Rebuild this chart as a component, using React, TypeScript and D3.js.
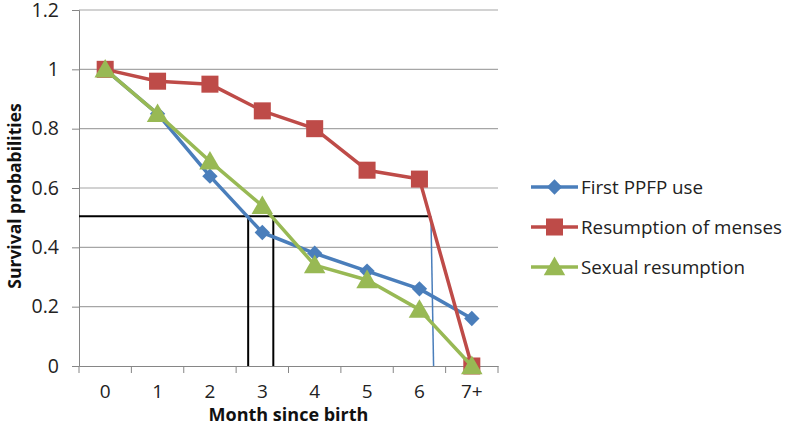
import { useEffect, useRef } from 'react';
import * as d3 from 'd3';

const months = ['0', '1', '2', '3', '4', '5', '6', '7+'];
const firstPPFP = [1, 0.85, 0.64, 0.45, 0.38, 0.32, 0.26, 0.16];
const menses = [1, 0.96, 0.95, 0.86, 0.8, 0.66, 0.63, 0];
const sexual = [1, 0.85, 0.69, 0.54, 0.34, 0.29, 0.19, 0];
const yTicks = [0, 0.2, 0.4, 0.6, 0.8, 1, 1.2];

// median (0.5) crossing guide lines, x in month units
const medianLevel = 0.505;
const blackCrossings = [2.73, 3.21];
const blueCrossing = { top: 6.22, bottom: 6.27 };

interface Series {
  name: string;
  values: number[];
  color: string;
  marker: 'diamond' | 'square' | 'triangle';
}

const series: Series[] = [
  { name: 'First PPFP use', values: firstPPFP, color: '#4A7EBB', marker: 'diamond' },
  { name: 'Resumption of menses', values: menses, color: '#BE4B48', marker: 'square' },
  { name: 'Sexual resumption', values: sexual, color: '#98B954', marker: 'triangle' },
];

const FONT = '"Open Sans", "Liberation Sans", sans-serif';

export default function App() {
  const ref = useRef<SVGSVGElement | null>(null);

  useEffect(() => {
    const width = 787;
    const height = 438;
    const margin = { top: 10, right: 289, bottom: 72, left: 79 };
    const innerW = width - margin.left - margin.right;
    const innerH = height - margin.top - margin.bottom;

    d3.select(ref.current).selectAll('*').remove();
    const root = d3.select(ref.current).attr('width', width).attr('height', height);
    const svg = root.append('g').attr('transform', `translate(${margin.left},${margin.top})`);

    const x = d3.scaleBand().domain(months).range([0, innerW]);
    const xm = d3.scaleLinear().domain([-0.5, months.length - 0.5]).range([0, innerW]);
    const y = d3.scaleLinear().domain([0, 1.2]).range([innerH, 0]);

    // gridlines
    svg.append('g')
      .selectAll('line')
      .data(yTicks.filter(t => t > 0))
      .enter().append('line')
      .attr('x1', 0).attr('x2', innerW)
      .attr('y1', d => y(d)).attr('y2', d => y(d))
      .attr('stroke', '#A6A6A6').attr('stroke-width', 1.2);

    // y axis
    const yAxis = svg.append('g')
      .call(d3.axisLeft(y).tickValues(yTicks).tickSize(7).tickPadding(13).tickFormat(d => String(d)));
    yAxis.select('.domain').attr('stroke', '#868686');
    yAxis.selectAll('.tick line').attr('stroke', '#868686');
    yAxis.selectAll('text').attr('font-family', FONT).attr('font-size', 19.5).attr('fill', '#222');

    // x axis
    const xAxis = svg.append('g')
      .attr('transform', `translate(0,${innerH})`)
      .call(d3.axisBottom(x).tickSize(0).tickPadding(19));
    xAxis.select('.domain').attr('stroke', '#868686');
    xAxis.selectAll('text').attr('font-family', FONT).attr('font-size', 19).attr('fill', '#222');
    svg.append('g')
      .selectAll('line')
      .data(d3.range(months.length + 1))
      .enter().append('line')
      .attr('x1', i => i * x.step()).attr('x2', i => i * x.step())
      .attr('y1', innerH).attr('y2', innerH + 7)
      .attr('stroke', '#868686');

    // median guide lines
    svg.append('line')
      .attr('x1', 0).attr('x2', xm(blueCrossing.top))
      .attr('y1', y(medianLevel)).attr('y2', y(medianLevel))
      .attr('stroke', '#000').attr('stroke-width', 2);
    svg.append('g')
      .selectAll('line')
      .data(blackCrossings)
      .enter().append('line')
      .attr('x1', d => xm(d)).attr('x2', d => xm(d))
      .attr('y1', y(medianLevel)).attr('y2', innerH)
      .attr('stroke', '#000').attr('stroke-width', 2);
    svg.append('line')
      .attr('x1', xm(blueCrossing.top)).attr('x2', xm(blueCrossing.bottom))
      .attr('y1', y(medianLevel)).attr('y2', innerH)
      .attr('stroke', '#4A7EBB').attr('stroke-width', 1.5);

    const symbolFor = (m: Series['marker']) => {
      if (m === 'diamond') return d3.symbol().type(d3.symbolDiamond2).size(150)();
      if (m === 'square') return d3.symbol().type(d3.symbolSquare).size(290)();
      return d3.symbol().type(d3.symbolTriangle).size(200)();
    };

    const line = d3.line<number>()
      .x((_, i) => (x(months[i]) ?? 0) + x.bandwidth() / 2)
      .y(d => y(d));

    series.forEach(s => {
      svg.append('path')
        .datum(s.values)
        .attr('fill', 'none')
        .attr('stroke', s.color)
        .attr('stroke-width', 3.5)
        .attr('stroke-linejoin', 'round')
        .attr('d', line);
      svg.append('g')
        .selectAll('path')
        .data(s.values)
        .enter().append('path')
        .attr('d', symbolFor(s.marker))
        .attr('transform', (d, i) => {
          const dy = s.marker === 'triangle' ? 2 : 0;
          return `translate(${(x(months[i]) ?? 0) + x.bandwidth() / 2},${y(d) + dy})`;
        })
        .attr('fill', s.color);
    });

    // axis titles
    root.append('text')
      .attr('transform', `translate(21,${margin.top + innerH / 2 + 8}) rotate(-90)`)
      .attr('text-anchor', 'middle')
      .attr('font-family', FONT).attr('font-weight', 'bold').attr('font-size', 17.5)
      .attr('fill', '#111')
      .text('Survival probabilities');
    root.append('text')
      .attr('x', margin.left + innerW / 2).attr('y', 421)
      .attr('text-anchor', 'middle')
      .attr('font-family', FONT).attr('font-weight', 'bold').attr('font-size', 18)
      .attr('fill', '#111')
      .text('Month since birth');

    // legend
    const legend = root.append('g')
      .selectAll('g')
      .data(series)
      .enter().append('g')
      .attr('transform', (d, i) => `translate(531,${187 + i * 40})`);
    legend.append('line')
      .attr('x1', 0).attr('x2', 47)
      .attr('stroke', d => d.color).attr('stroke-width', 3.5);
    legend.append('path')
      .attr('d', d => symbolFor(d.marker))
      .attr('transform', d => `translate(23.5,${d.marker === 'triangle' ? 2 : 0})`)
      .attr('fill', d => d.color);
    legend.append('text')
      .attr('x', 50).attr('y', 0).attr('dy', '0.35em')
      .attr('font-family', FONT).attr('font-size', 18.8).attr('fill', '#222')
      .text(d => d.name);
  }, []);

  return (
    <div style={{ position: 'absolute', left: 0, top: 0 }}>
      <svg ref={ref}></svg>
    </div>
  );
}
